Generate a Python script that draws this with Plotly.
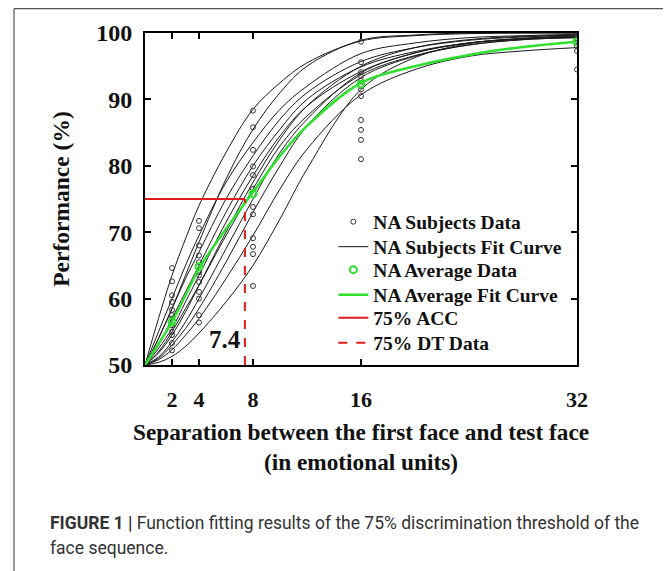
import plotly.graph_objects as go

# ---------------- data ----------------
sep_levels = [2, 4, 8, 16, 32]

# individual subject data (one list per separation level)
subj_x2 = [64.6, 62.6, 60.5, 59.5, 58.3, 57.0, 56.0, 55.0, 54.5, 53.3, 52.2, 57.5]
subj_x4 = [71.7, 70.6, 68.0, 66.5, 65.5, 63.5, 62.5, 61.0, 60.0, 57.5, 56.4, 64.0]
subj_x8 = [88.3, 85.8, 82.4, 79.9, 78.6, 76.5, 73.8, 72.7, 69.1, 67.8, 66.7, 61.9]
subj_x16 = [98.7, 95.6, 94.1, 92.8, 91.5, 90.5, 86.9, 85.4, 83.9, 81.0, 93.5, 92.0]
subj_x32 = [100.0, 100.0, 99.5, 99.0, 98.5, 97.3, 94.5, 99.8, 99.2, 98.8, 100.0, 98.0]

# average data
avg_data = [56.5, 64.8, 75.8, 92.3, 98.7]

# fit curves sampled along the separation axis
curve_x = [0, 1, 2, 3, 4, 6, 8, 10, 12, 16, 20, 24, 28, 32]
subj_curves = [
    [50, 57.0, 63.5, 69.0, 74.0, 82.0, 88.5, 92.5, 95.5, 98.8, 99.6, 99.9, 100, 100],
    [50, 54.0, 58.5, 63.5, 68.5, 78.0, 85.5, 91.0, 95.0, 98.9, 99.7, 100, 100, 100],
    [50, 55.0, 60.0, 65.0, 69.5, 77.5, 83.5, 88.5, 92.0, 96.9, 98.5, 99.3, 99.6, 99.8],
    [50, 54.0, 58.5, 63.0, 67.0, 75.0, 81.5, 87.0, 91.0, 95.7, 97.8, 98.9, 99.4, 99.7],
    [50, 53.0, 57.0, 61.0, 65.0, 73.0, 80.0, 85.5, 90.0, 94.9, 97.2, 98.5, 99.1, 99.4],
    [50, 52.5, 55.5, 59.5, 63.5, 71.5, 78.5, 84.5, 89.0, 94.2, 97.0, 98.5, 99.2, 99.6],
    [50, 51.8, 54.5, 58.0, 62.0, 70.0, 77.5, 84.0, 89.0, 95.0, 97.8, 99.0, 99.5, 99.7],
    [50, 52.0, 55.0, 58.5, 62.0, 69.5, 76.5, 83.0, 87.5, 93.7, 96.6, 98.2, 99.0, 99.3],
    [50, 51.2, 53.5, 56.5, 60.0, 67.5, 75.0, 82.0, 87.0, 94.0, 97.0, 98.5, 99.1, 99.4],
    [50, 51.0, 53.0, 55.5, 58.5, 65.5, 73.0, 80.0, 86.0, 93.3, 96.5, 98.2, 99.0, 99.3],
    [50, 50.8, 52.3, 54.5, 57.0, 63.0, 69.5, 76.5, 82.5, 90.7, 94.5, 96.5, 97.3, 97.8],
    [50, 50.4, 51.3, 52.8, 54.8, 59.5, 65.0, 72.0, 79.5, 91.5, 96.3, 98.4, 99.2, 99.5],
]
avg_curve = [50, 53.2, 56.5, 60.5, 64.5, 70.5, 76.0, 81.5, 86.0, 92.5, 95.0, 96.7, 97.9, 98.7]

acc_level = 75
threshold = 7.4

x_ticks = [2, 4, 8, 16, 32]
y_ticks = [50, 60, 70, 80, 90, 100]

legend_names = ["NA Subjects Data", "NA Subjects Fit Curve", "NA Average Data",
                "NA Average Fit Curve", "75% ACC", "75% DT Data"]

caption_1 = "<b>FIGURE 1 |</b> Function fitting results of the 75% discrimination threshold of the"
caption_2 = "face sequence."

# ---------------- figure ----------------
SERIF = "Liberation Serif, Times New Roman, serif"
GREEN = "#2fe02f"
RED = "#e01b1b"
INK = "#111111"

fig = go.Figure()

for i, c in enumerate(subj_curves):
    fig.add_trace(go.Scatter(
        x=curve_x, y=c, mode="lines", line=dict(color="#1a1a1a", width=1, shape="spline", smoothing=1.0),
        name=legend_names[1], legendgroup="fit", showlegend=(i == 0), legend="legend2",
        hoverinfo="skip"))

sx, sy = [], []
for lvl, vals in zip(sep_levels, [subj_x2, subj_x4, subj_x8, subj_x16, subj_x32]):
    sx += [lvl] * len(vals)
    sy += vals
fig.add_trace(go.Scatter(
    x=sx, y=sy, mode="markers", name=legend_names[0], legend="legend",
    marker=dict(symbol="circle-open", size=5, color="#333333", line=dict(width=1))))

fig.add_trace(go.Scatter(
    x=curve_x, y=avg_curve, mode="lines", name=legend_names[3], legend="legend4",
    line=dict(color=GREEN, width=2.5, shape="spline", smoothing=1.0)))
fig.add_trace(go.Scatter(
    x=sep_levels, y=avg_data, mode="markers", name=legend_names[2], legend="legend3",
    marker=dict(symbol="circle-open", size=7, color=GREEN, line=dict(width=2))))

fig.add_trace(go.Scatter(
    x=[0, threshold], y=[acc_level, acc_level], mode="lines", name=legend_names[4], legend="legend5",
    line=dict(color=RED, width=2)))
fig.add_trace(go.Scatter(
    x=[threshold, threshold], y=[50, acc_level], mode="lines", name=legend_names[5], legend="legend6",
    line=dict(color=RED, width=2, dash="dash")))

fig.add_annotation(x=5.9, y=53.8, xref="x", yref="y", text="<b>7.4</b>", showarrow=False,
                   font=dict(family=SERIF, size=25, color=INK))

# caption
cap_font = dict(family="Roboto, Arial, sans-serif", size=17.5, color="#333")
fig.add_annotation(x=-0.2245, y=-0.4759, xref="paper", yref="paper", xanchor="left", yanchor="middle",
                   align="left", showarrow=False, text=caption_1, font=cap_font)
fig.add_annotation(x=-0.2245, y=-0.5512, xref="paper", yref="paper", xanchor="left", yanchor="middle",
                   align="left", showarrow=False, text=caption_2, font=cap_font)

# outer frame (top and left edges of the figure box)
fig.add_shape(type="line", xref="paper", yref="paper", x0=-0.3032, x1=1.3, y0=1.0732, y1=1.0732,
              line=dict(color="#555", width=1.2))
fig.add_shape(type="line", xref="paper", yref="paper", x0=-0.3032, x1=-0.3032, y0=1.0732, y1=-0.7,
              line=dict(color="#555", width=1.2))

axis_common = dict(showline=True, linecolor="black", linewidth=2, mirror="ticks", ticks="inside",
                   ticklen=6, tickwidth=2, tickcolor="black", showgrid=False, zeroline=False)

fig.update_xaxes(range=[0, 32], tickvals=x_ticks, ticktext=[str(t) for t in x_ticks],
                 tickfont=dict(family=SERIF, size=22, color=INK, weight="bold"),
                 ticklabelstandoff=14,
                 title=dict(text="Separation between the first face and test face<br>(in emotional units)",
                            font=dict(family=SERIF, size=23.3, color=INK, weight="bold"), standoff=12),
                 **axis_common)
fig.update_yaxes(range=[50, 100], tickvals=y_ticks,
                 tickfont=dict(family=SERIF, size=24, color=INK, weight="bold"),
                 ticklabelstandoff=6,
                 title=dict(text="Performance (%)",
                            font=dict(family=SERIF, size=23.5, color=INK, weight="bold"), standoff=20),
                 **axis_common)

# legends: one per entry so that row spacing matches the reference
row_centers = [222, 247, 270, 295, 318, 343]   # window pixel rows of the reference legend
legend_layout = {}
for k, yc in enumerate(row_centers):
    key = "legend" if k == 0 else f"legend{k + 1}"
    legend_layout[key] = dict(x=0.436, y=(365 - yc) / 332, xanchor="left", yanchor="middle",
                              bgcolor="rgba(0,0,0,0)", borderwidth=0,
                              font=dict(family=SERIF, size=19.5, color=INK, weight="bold"),
                              itemwidth=30)

fig.update_layout(
    width=671, height=571,
    margin=dict(l=137, r=102, t=25, b=214),
    paper_bgcolor="white", plot_bgcolor="white",
    showlegend=True,
    **legend_layout,
)

fig.write_html("out.html")
